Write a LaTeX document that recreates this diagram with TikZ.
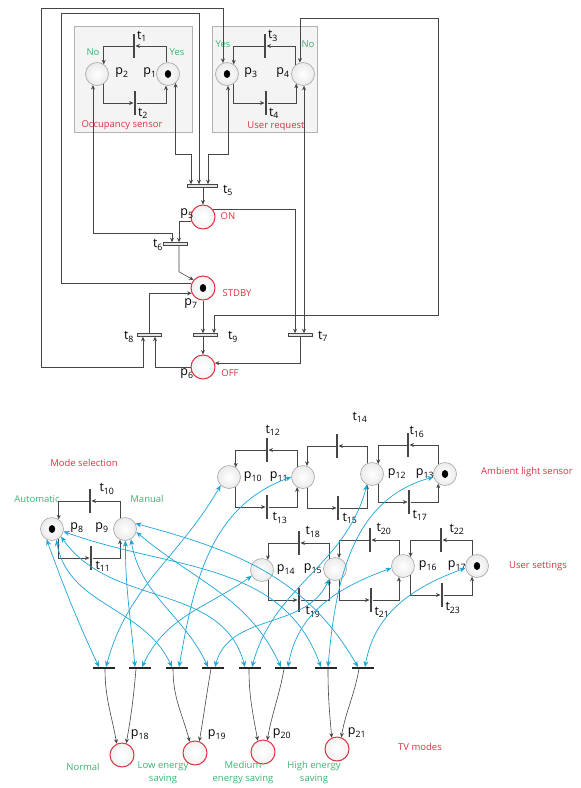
\documentclass[tikz,border=0pt]{standalone}
\usepackage{fontspec}
\setmainfont{Open Sans}
\usetikzlibrary{arrows.meta,positioning}

\definecolor{lblred}{RGB}{220,50,65}
\definecolor{lblgreen}{RGB}{60,180,115}
\definecolor{linkblue}{RGB}{30,165,215}
\definecolor{arcgray}{RGB}{70,70,70}
\newcommand{\plname}[1]{p\textsubscript{#1}}
\newcommand{\trname}[1]{t\textsubscript{#1}}

\begin{document}
\begin{tikzpicture}[
    x=1pt, y=1pt,
    font=\fontsize{12.5}{14}\selectfont,
    >=Stealth,
    place/.style={circle, draw=gray!70, line width=0.6pt, inner color=white, outer color=gray!16, minimum size=23pt, inner sep=0pt},
    state/.style={place, draw=lblred, line width=1pt, outer color=gray!10, minimum size=24pt},
    marked/.style={path picture={\fill[black] (path picture bounding box.center) ellipse (3.2pt and 4pt);}},
    vbar/.style={rectangle, fill=arcgray, minimum width=2.6pt, minimum height=24pt, inner sep=0pt},
    hbar/.style={rectangle, draw=arcgray, fill=gray!20, line width=0.5pt, minimum width=24pt, minimum height=3pt, inner sep=0pt},
    mbar/.style={rectangle, fill=black!85, minimum width=22pt, minimum height=1.5pt, inner sep=0pt},
    panel/.style={draw=gray!60, fill=gray!9, line width=0.6pt},
    lbl/.style={inner sep=0pt},
    note/.style={font=\fontsize{9.5}{13}\selectfont, inner sep=0pt, align=center},
    arc/.style={draw=arcgray, line width=0.6pt, -{Stealth[length=4.5pt,width=4pt]}},
    both/.style={arc, {Stealth[length=4.5pt,width=4pt]}-{Stealth[length=4.5pt,width=4pt]}},
    link/.style={draw=linkblue, line width=0.7pt, {Stealth[length=6pt,width=5pt]}-{Stealth[length=6pt,width=5pt]}}
]
\fill[white] (0,0) rectangle (581,-788);
\useasboundingbox (0,0) rectangle (581,-788);

% sensor panels
\draw[panel] (74,-26) rectangle (192,-132);
\draw[panel] (212,-26) rectangle (317,-132);

% upper net
\node[place, marked] (p1) at (168,-74) {};
\node[place] (p2) at (97,-74) {};
\node[place, marked] (p3) at (227,-74) {};
\node[place] (p4) at (303,-74) {};
\node[vbar] (t1) at (134,-46) {};
\node[vbar] (t2) at (135,-103) {};
\node[vbar] (t3) at (265,-46) {};
\node[vbar] (t4) at (266,-103) {};
\node[state] (p5) at (203,-217) {};
\node[state, marked] (p7) at (203,-288) {};
\node[state] (p6) at (203,-367) {};
\node[hbar, minimum width=30pt] (t5) at (202,-186) {};
\node[hbar] (t6) at (175.5,-244) {};
\node[hbar] (t8) at (149,-335) {};
\node[hbar] (t9) at (205,-335) {};
\node[hbar] (t7) at (300,-335) {};

\node[lbl] (lt1) at (142,-36) {\trname{1}};
\node[lbl] (lt2) at (143,-113) {\trname{2}};
\node[lbl] (lt3) at (273,-36) {\trname{3}};
\node[lbl] (lt4) at (274,-113) {\trname{4}};
\node[lbl] (lt5) at (228,-190) {\trname{5}};
\node[lbl] (lt6) at (158,-245) {\trname{6}};
\node[lbl] (lt7) at (323,-336) {\trname{7}};
\node[lbl] (lt8) at (129,-337) {\trname{8}};
\node[lbl] (lt9) at (233,-337) {\trname{9}};
\node[lbl] (lp1) at (150,-73) {\plname{1}};
\node[lbl] (lp2) at (122,-73) {\plname{2}};
\node[lbl] (lp3) at (251,-73) {\plname{3}};
\node[lbl] (lp4) at (283,-73) {\plname{4}};
\node[lbl] (lp5) at (187,-214) {\plname{5}};
\node[lbl] (lp7) at (191,-304) {\plname{7}};
\node[lbl] (lp6) at (187,-374) {\plname{6}};
\node[note, text=lblgreen] (no1) at (93,-52) {No};
\node[note, text=lblgreen] (yes1) at (177,-52) {Yes};
\node[note, text=lblgreen] (yes2) at (223,-44) {Yes};
\node[note, text=lblgreen] (no2) at (308,-44) {No};
\node[note, text=lblred] (occ) at (122,-125) {Occupancy sensor};
\node[note, text=lblred] (req) at (276,-126) {User request};
\node[note, text=lblred] (on) at (228,-216) {ON};
\node[note, text=lblred] (stdby) at (237,-293) {STDBY};
\node[note, text=lblred] (off) at (230,-373) {OFF};

\draw[arc] (p1.100) |- (t1);
\draw[arc] (t1) -| (p2.55);
\draw[arc] (p2.-55) |- (t2);
\draw[arc] (t2) -| (p1.-100);
\draw[arc] (p4.130) |- (t3);
\draw[arc] (t3) -| (p3.55);
\draw[arc] (p3.-55) |- (t4);
\draw[arc] (t4) -| (p4.-125);

\draw[both] (p1.-50) |- (191,-154) -- ([xshift=-11pt]t5.north);
\draw[both] (p3.-85) |- (208,-154) -- ([xshift=6pt]t5.north);
\draw[arc] (p7.160) -| (61,-13) -| ([xshift=-3pt]t5.north);
\draw[arc] (p5.north |- t5.south) -- (p5.north);
\draw[arc] (p5.200) -| ([xshift=3.5pt]t6.north);
\draw[both] (p2.-110) |- (172,-233) -- ([xshift=-3.5pt]t6.north);
\draw[arc] ([xshift=3.5pt]t6.south) -- ++(0,-26) -- (p7.140);
\draw[arc] (p5.40) -| ([xshift=-5pt]t7.north);
\draw[both] (p4.-85) -- (p4.-85 |- t7.north);
\draw[arc] (t7.south) |- (p6.18);
\draw[arc] (p7.south) -- (p7.south |- t9.north);
\draw[arc] (p6.north |- t9.south) -- (p6.north);
\draw[both] (p4.105) |- (438,-18) |- (214,-315) -- ([xshift=9pt]t9.north);
\draw[arc] (t8.north) |- (p7.205);
\draw[arc] (p6.west) -| ([xshift=6pt]t8.south);
\draw[both] (p3.110) |- (41,-8) |- (143,-367) -- ([xshift=-6pt]t8.south);

% lower net
\node[place, marked] (p8) at (52,-529) {};
\node[place] (p9) at (125,-529) {};
\node[vbar] (t10) at (90,-501) {};
\node[vbar] (t11) at (91,-558) {};
\node[place] (p10) at (229,-477) {};
\node[place] (p11) at (303,-477) {};
\node[place] (p12) at (372,-474) {};
\node[place, marked] (p13) at (445,-474) {};
\node[vbar] (t12) at (267,-450) {};
\node[vbar] (t13) at (267,-507) {};
\node[vbar] (t14) at (337,-446) {};
\node[vbar] (t15) at (338,-508) {};
\node[vbar] (t16) at (408,-445) {};
\node[vbar] (t17) at (409,-502) {};
\node[place] (p14) at (262,-570) {};
\node[place] (p15) at (335,-569) {};
\node[place] (p16) at (403,-566) {};
\node[place, marked] (p17) at (477,-566) {};
\node[vbar] (t18) at (299,-543) {};
\node[vbar] (t19) at (299,-600) {};
\node[vbar] (t20) at (370,-540) {};
\node[vbar] (t21) at (371,-600) {};
\node[vbar] (t22) at (441,-540) {};
\node[vbar] (t23) at (442,-595) {};
\node[mbar] (m1) at (104,-668) {};
\node[mbar] (m2) at (140,-668) {};
\node[mbar] (m3) at (177,-668) {};
\node[mbar] (m4) at (213,-668) {};
\node[mbar] (m5) at (250,-668) {};
\node[mbar] (m6) at (286,-668) {};
\node[mbar] (m7) at (326,-668) {};
\node[mbar] (m8) at (363,-668) {};
\node[state] (p18) at (122,-755) {};
\node[state] (p19) at (195,-753) {};
\node[state] (p20) at (263,-752) {};
\node[state] (p21) at (337,-749) {};

\node[lbl] (lt10) at (107,-489) {\trname{10}};
\node[lbl] (lt11) at (103,-566) {\trname{11}};
\node[lbl] (lt12) at (273,-430) {\trname{12}};
\node[lbl] (lt13) at (280,-518) {\trname{13}};
\node[lbl] (lt14) at (360,-417) {\trname{14}};
\node[lbl] (lt15) at (350,-518) {\trname{15}};
\node[lbl] (lt16) at (417,-432) {\trname{16}};
\node[lbl] (lt17) at (420,-515) {\trname{17}};
\node[lbl] (lt18) at (313,-532) {\trname{18}};
\node[lbl] (lt19) at (313,-612) {\trname{19}};
\node[lbl] (lt20) at (384,-529) {\trname{20}};
\node[lbl] (lt21) at (382,-612) {\trname{21}};
\node[lbl] (lt22) at (457,-529) {\trname{22}};
\node[lbl] (lt23) at (453,-608) {\trname{23}};
\node[lbl] (lp8) at (77,-528) {\plname{8}};
\node[lbl] (lp9) at (102,-528) {\plname{9}};
\node[lbl] (lp10) at (253,-477) {\plname{10}};
\node[lbl] (lp11) at (279,-477) {\plname{11}};
\node[lbl] (lp12) at (397,-474) {\plname{12}};
\node[lbl] (lp13) at (425,-474) {\plname{13}};
\node[lbl] (lp14) at (286,-570) {\plname{14}};
\node[lbl] (lp15) at (313,-569) {\plname{15}};
\node[lbl] (lp16) at (428,-566) {\plname{16}};
\node[lbl] (lp17) at (457,-566) {\plname{17}};
\node[lbl] (lp18) at (140,-735) {\plname{18}};
\node[lbl] (lp19) at (217,-735) {\plname{19}};
\node[lbl] (lp20) at (282,-734) {\plname{20}};
\node[lbl] (lp21) at (357,-733) {\plname{21}};
\node[note, text=lblred] (modesel) at (84,-463) {Mode selection};
\node[note, text=lblgreen] (auto) at (37,-499) {Automatic};
\node[note, text=lblgreen] (manual) at (147,-499) {Manual};
\node[note, text=lblred] (ambient) at (527,-472) {Ambient light sensor};
\node[note, text=lblred] (usrset) at (538,-566) {User settings};
\node[note, text=lblred, anchor=west] (tvmodes) at (398,-747) {TV modes};
\node[note, text=lblgreen] (normal) at (83,-767) {Normal};
\node[note, text=lblgreen] (low) at (163,-773) {Low energy\\saving};
\node[note, text=lblgreen] (medium) at (243,-773) {Medium\\energy saving};
\node[note, text=lblgreen] (high) at (314,-773) {High energy\\saving};

\draw[arc] (p9.115) |- (t10);
\draw[arc] (t10) -| (p8.55);
\draw[arc] (p8.-55) |- (t11);
\draw[arc] (t11) -| (p9.-115);
\draw[arc] (p11.120) |- (t12);
\draw[arc] (t12) -| (p10.55);
\draw[arc] (p10.-55) |- (t13);
\draw[arc] (t13) -| (p11.-120);
\draw[arc] (p12.115) |- (t14);
\draw[arc] (t14) -| (p11.70);
\draw[arc] (p11.-70) |- (t15);
\draw[arc] (t15) -| (p12.-115);
\draw[arc] (p13.125) |- (t16);
\draw[arc] (t16) -| (p12.58);
\draw[arc] (p12.-58) |- (t17);
\draw[arc] (t17) -| (p13.-125);
\draw[arc] (p15.120) |- (t18);
\draw[arc] (t18) -| (p14.60);
\draw[arc] (p14.-60) |- (t19);
\draw[arc] (t19) -| (p15.-120);
\draw[arc] (p16.110) |- (t20);
\draw[arc] (t20) -| (p15.70);
\draw[arc] (p15.-70) |- (t21);
\draw[arc] (t21) -| (p16.-110);
\draw[arc] (p17.115) |- (t22);
\draw[arc] (t22) -| (p16.50);
\draw[arc] (p16.-50) |- (t23);
\draw[arc] (t23) -| (p17.-115);

% mode / sensor read arcs
\draw[link] (p8.-117) to[out=-70,in=115] ([xshift=-5pt]m1.north);
\draw[link] (p8.-68) to[out=-80,in=115] ([xshift=-5pt]m3.north);
\draw[link] (p8.-40) to[out=-55,in=105] ([xshift=-5pt]m5.north);
\draw[link] (p8.-12) to[out=-20,in=110] ([xshift=-5pt]m7.north);
\draw[link] (p9.-88) to[out=-90,in=95] ([xshift=-5pt]m2.north);
\draw[link] (p9.-60) to[out=-80,in=115] ([xshift=-5pt]m4.north);
\draw[link] (p9.-15) to[out=-40,in=115] ([xshift=-5pt]m6.north);
\draw[link] (p9.28) to[out=-15,in=120] ([xshift=-5pt]m8.north);
\draw[link] (p10.-135) to[out=-120,in=75] ([xshift=2pt]m1.north);
\draw[link] (p11.west) to[out=-160,in=80] ([xshift=2pt]m3.north);
\draw[link] (p12.-115) to[out=-105,in=75] ([xshift=2pt]m5.north);
\draw[link] (p13.195) to[out=-165,in=85] ([xshift=2pt]m7.north);
\draw[link] (p14.-150) to[out=-145,in=65] ([xshift=2pt]m2.north);
\draw[link] (p15.-120) to[out=-115,in=75] ([xshift=2pt]m4.north);
\draw[link] (p16.190) to[out=-160,in=80] ([xshift=2pt]m6.north);
\draw[link] (p17.190) to[out=-160,in=80] ([xshift=2pt]m8.north);

% TV mode outputs
\draw[arc] ([xshift=1pt]m1.south) to[out=-90,in=100] (p18.115);
\draw[arc] ([xshift=-4pt]m2.south) to[out=-95,in=80] (p18.70);
\draw[arc] ([xshift=-4pt]m3.south) to[out=-90,in=105] (p19.115);
\draw[arc] ([xshift=-2pt]m4.south) to[out=-100,in=80] (p19.70);
\draw[arc] ([xshift=-1pt]m5.south) to[out=-90,in=100] (p20.115);
\draw[arc] ([xshift=-2pt]m6.south) to[out=-100,in=80] (p20.70);
\draw[arc] ([xshift=2pt]m7.south) to[out=-90,in=95] (p21.115);
\draw[arc] ([xshift=-4pt]m8.south) to[out=-100,in=80] (p21.70);
\end{tikzpicture}
\end{document}
